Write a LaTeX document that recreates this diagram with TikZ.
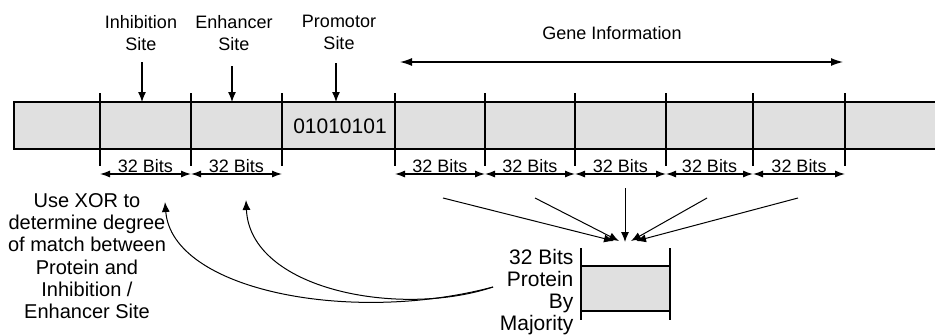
\documentclass[tikz,border=0pt]{standalone}
\usepackage{fontspec}
\setmainfont{Liberation Sans}
\usetikzlibrary{arrows.meta}
\begin{document}
\begin{tikzpicture}[x=1pt,y=-1pt,line width=1.2pt,
  lbl/.style={font=\fontsize{18}{22}\selectfont,inner sep=0pt},
  biglbl/.style={font=\fontsize{21}{22}\selectfont,inner sep=0pt},
  midlbl/.style={font=\fontsize{20}{22.2}\selectfont,inner sep=0pt},
  tipend/.style={-{Latex[length=10pt,width=8pt]}},
  dimarrow/.style={{Latex[length=10pt,width=7pt]}-{Latex[length=10pt,width=7pt]}},
  barfill/.style={fill=black!12}]
\useasboundingbox (0,0) rectangle (935,335);
% main bar
\fill[barfill] (14,102) rectangle (935,149);
\draw (935,102) -- (14,102) -- (14,149) -- (935,149);
% dividers
\foreach \n/\x in {a/100,b/191,c/282,d/395,e/485,f/575,g/666,h/753,i/845}{
  \draw (\x,93) -- (\x,166);
  \coordinate (\n) at (\x,174);
}
% dimension arrows
\foreach \p/\q in {a/b,b/c,d/e,e/f,f/g,g/h,h/i}{
  \draw[dimarrow] (\p) -- (\q) node[lbl,midway,anchor=base,yshift=2pt] {32 Bits};
}
% top labels
\node[lbl,anchor=north,align=center] (inh) at (141,15) {Inhibition\\Site};
\node[lbl,anchor=north,align=center] (enh) at (234,15) {Enhancer\\Site};
\node[lbl,anchor=north,align=center] (pro) at (339,15) {Promotor\\Site};
\coordinate (inhT) at (142,62);  \coordinate (inhB) at (142,102);
\coordinate (enhT) at (232,66);  \coordinate (enhB) at (232,102);
\coordinate (proT) at (336,63);  \coordinate (proB) at (336,102);
\draw[tipend] (inhT) -- (inhB);
\draw[tipend] (enhT) -- (enhB);
\draw[tipend] (proT) -- (proB);
\node[biglbl,anchor=base] (bits) at (340,133) {01010101};
% gene information
\node[lbl,anchor=north] (gene) at (612,26) {Gene Information};
\coordinate (gL) at (400,62); \coordinate (gR) at (843,62);
\draw[{Latex[length=12pt,width=8pt]}-{Latex[length=12pt,width=8pt]}] (gL) -- (gR);
% fan of arrows to protein
\coordinate (f1) at (443,198); \coordinate (t1) at (614,241);
\coordinate (f2) at (535,198); \coordinate (t2) at (619,241);
\coordinate (f3) at (625,188); \coordinate (t3) at (625,242);
\coordinate (f4) at (707,198); \coordinate (t4) at (631,241);
\coordinate (f5) at (798,198); \coordinate (t5) at (636,241);
\foreach \k in {1,...,5}{\draw[tipend,line width=1pt] (f\k) -- (t\k);}
% protein box
\fill[barfill] (581,266) rectangle (670,311);
\draw (581,266) -- (670,266) (581,311) -- (670,311);
\draw (581,248) -- (581,320) (670,248) -- (670,320);
\node[biglbl,anchor=north east,align=right] (prot) at (574,249) {32 Bits\\Protein\\By\\Majority};
% XOR text
\node[midlbl,anchor=north,align=center] (xor) at (87,193) {Use XOR to\\determine degree\\of match between\\Protein and\\Inhibition /\\Enhancer Site};
% curved arrows
\coordinate (pk) at (493,287);
\coordinate (ix) at (165,202);
\coordinate (ex) at (246,200);
\draw[tipend,line width=1pt] (pk) .. controls (350,325) and (172,290) .. (ix);
\draw[tipend,line width=1pt] (pk) .. controls (400,318) and (250,290) .. (ex);
\end{tikzpicture}
\end{document}
